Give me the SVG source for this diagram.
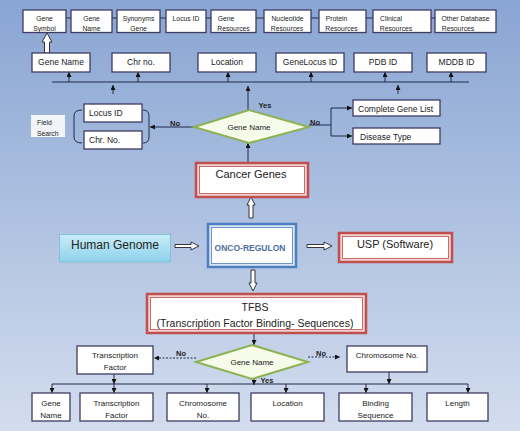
<svg xmlns="http://www.w3.org/2000/svg" width="520" height="431" viewBox="0 0 520 431">
<defs>
<linearGradient id="bg" x1="0" y1="0" x2="0" y2="1">
<stop offset="0" stop-color="#89a5d3"/>
<stop offset="1" stop-color="#d3ddee"/>
</linearGradient>
<linearGradient id="hg" x1="0" y1="0" x2="0" y2="1">
<stop offset="0" stop-color="#c9ecf8"/>
<stop offset="1" stop-color="#8dd2ec"/>
</linearGradient>
<marker id="ah" viewBox="0 0 10 10" refX="10" refY="5" markerWidth="5" markerHeight="5" markerUnits="userSpaceOnUse" orient="auto">
<path d="M0,0 L10,5 L0,10 Z" fill="#111"/>
</marker>
<style>
text{font-family:"Liberation Sans",Arial,sans-serif;fill:#222;text-anchor:middle}
.bx{fill:#fff;stroke:#3e3c62;stroke-width:1.3}
.t7{font-size:6.8px}
.t8{font-size:8px}
.t85{font-size:8.5px}
.lbl{font-size:7.5px;font-weight:bold}
.ln{fill:none;stroke:#1e2a48;stroke-width:1}
.arr{fill:none;stroke:#1e2a48;stroke-width:1;marker-end:url(#ah)}
.dash{fill:none;stroke:#1e2a48;stroke-width:1;stroke-dasharray:2,1.5;marker-end:url(#ah)}
.redo{fill:#f0d3d3;stroke:#c0504d;stroke-width:2.5}
.redi{fill:#fff;stroke:#c0504d;stroke-width:0.8}
.dia{fill:#f7fbea;stroke:#8db255;stroke-width:2}
.hol{fill:#fff;stroke:#222;stroke-width:0.9}
</style>
</defs>
<rect width="520" height="431" fill="url(#bg)"/>

<g id="connectors">
<!-- top row links -->
<path class="ln" d="M66,18 H71 M112,18 H117 M160,18 H166 M206,18 H211 M256,18 H264 M311,18 H319 M366,18 H373 M431,18 H435"/>
<!-- second row bus -->
<path class="ln" d="M52,82 H469"/>
<path class="arr" d="M69,82 V72"/>
<path class="arr" d="M138,82 V72"/>
<path class="arr" d="M228,82 V72"/>
<path class="arr" d="M311,82 V72"/>
<path class="arr" d="M385,82 V72"/>
<path class="arr" d="M451,82 V72"/>
<path class="arr" d="M113,94 V85"/>
<path class="arr" d="M398,94 V85"/>
<path class="arr" d="M248,110 V86"/>
<!-- diamond 1 branches -->
<path class="arr" d="M194,127 H150"/>
<path class="ln" d="M309,125 H331 M331,108 V136"/>
<path class="arr" d="M331,108 H352"/>
<path class="arr" d="M331,136 H352"/>
<path class="arr" d="M248,162 V143"/>
<!-- brackets -->
<path class="ln" stroke-width="1.2" d="M82,110 Q74,110 74,116 V137 Q74,143 82,143"/>
<path class="ln" stroke-width="1.2" d="M143,110 Q149,110 149,116 V137 Q149,143 143,143"/>
<!-- hollow arrows -->
<path class="hol" d="M44.5,53 V42 H42 L47,33 L52,42 H49.5 V53 Z"/>
<path class="hol" d="M249,218 V205 H247 L251,197 L255,205 H253 V218 Z"/>
<path class="hol" d="M175,244.5 H191 V242 L199,246 L191,250 V247.5 H175 Z"/>
<path class="hol" d="M307,244.5 H324 V242 L332,246 L324,250 V247.5 H307 Z"/>
<path class="hol" d="M251,270 V283 H249 L253,291 L257,283 H255 V270 Z"/>
<!-- TFBS area -->
<path class="arr" d="M254,333 V345"/>
<path class="dash" d="M196,358 H154"/>
<path class="dash" d="M308,357 H340"/>
<path class="arr" d="M254,379 V385"/>
<path class="ln" d="M52,384 H468"/>
<path class="arr" d="M114,374 V384"/>
<path class="arr" d="M389,372 V384"/>
<path class="arr" d="M52,384 V393"/>
<path class="arr" d="M114,384 V393"/>
<path class="arr" d="M207,384 V393"/>
<path class="arr" d="M286,384 V393"/>
<path class="arr" d="M366,384 V393"/>
<path class="arr" d="M468,384 V393"/>
</g>

<!-- top row -->
<g id="gene-symbol"><rect class="bx" x="23" y="10" width="43" height="22.5"/><text class="t7" x="44.5" y="20.5">Gene</text><text class="t7" x="44.5" y="30.5">Symbol</text></g>
<g id="gene-name-top"><rect class="bx" x="71" y="10" width="41" height="22.5"/><text class="t7" x="91.5" y="20.5">Gene</text><text class="t7" x="91.5" y="30.5">Name</text></g>
<g id="synonyms-gene"><rect class="bx" x="117" y="10" width="43" height="22.5"/><text class="t7" x="138.5" y="20.5">Synonyms</text><text class="t7" x="138.5" y="30.5">Gene</text></g>
<g id="locus-id-top"><rect class="bx" x="166" y="10" width="40" height="22.5"/><text class="t7" x="186" y="20.5">Locus ID</text></g>
<g id="gene-resources"><rect class="bx" x="211" y="10" width="45" height="22.5"/><text class="t7" x="226" y="20.5">Gene</text><text class="t7" x="233.5" y="30.5">Resources</text></g>
<g id="nucleotide-resources"><rect class="bx" x="264" y="10" width="47" height="22.5"/><text class="t7" x="287.5" y="20.5">Nucleotide</text><text class="t7" x="287" y="30.5">Resources</text></g>
<g id="protein-resources"><rect class="bx" x="319" y="10" width="47" height="22.5"/><text class="t7" x="336.5" y="20.5">Protein</text><text class="t7" x="341.5" y="30.5">Resources</text></g>
<g id="clinical-resources"><rect class="bx" x="373" y="10" width="58" height="22.5"/><text class="t7" x="391" y="20.5">Clinical</text><text class="t7" x="396" y="30.5">Resources</text></g>
<g id="other-db-resources"><rect class="bx" x="435" y="10" width="61" height="22.5"/><text class="t7" x="465.5" y="20.5">Other Database</text><text class="t7" x="458" y="30.5">Resources</text></g>

<!-- second row -->
<g id="gene-name-2"><rect class="bx" x="32" y="53" width="58" height="19"/><text class="t85" x="61" y="65">Gene Name</text></g>
<g id="chr-no"><rect class="bx" x="112" y="53" width="58" height="19"/><text class="t85" x="141" y="65">Chr no.</text></g>
<g id="location-2"><rect class="bx" x="198" y="53" width="58" height="19"/><text class="t85" x="227" y="65">Location</text></g>
<g id="genelocus-id"><rect class="bx" x="276" y="53" width="68" height="19"/><text class="t85" x="310" y="65">GeneLocus ID</text></g>
<g id="pdb-id"><rect class="bx" x="354" y="53" width="58" height="19"/><text class="t85" x="383" y="65">PDB ID</text></g>
<g id="mddb-id"><rect class="bx" x="427" y="53" width="59" height="19"/><text class="t85" x="456.5" y="65">MDDB ID</text></g>

<!-- diamond 1 -->
<g id="gene-name-decision-1"><path class="dia" d="M194,127 L249,110 L309,127 L249,143 Z"/><text class="t8" x="249" y="130">Gene Name</text></g>
<g id="labels-1"><text class="lbl" x="265" y="108">Yes</text><text class="lbl" x="175" y="126">No</text><text class="lbl" x="315" y="124.5">No</text></g>

<g id="field-search"><rect x="31" y="115" width="34" height="22" fill="#f2f4fa"/><text class="t7" x="37" y="124.5" style="text-anchor:start">Field</text><text class="t7" x="37" y="135.5" style="text-anchor:start">Search</text></g>
<g id="locus-id"><rect class="bx" x="84" y="104" width="58" height="18"/><text class="t85" x="89" y="116" style="text-anchor:start">Locus ID</text></g>
<g id="chr-no-2"><rect class="bx" x="84" y="131" width="58" height="18"/><text class="t85" x="89" y="143" style="text-anchor:start">Chr. No.</text></g>
<g id="complete-gene-list"><rect class="bx" x="353" y="100" width="87" height="16"/><text class="t85" x="358" y="111.5" style="text-anchor:start">Complete Gene List</text></g>
<g id="disease-type"><rect class="bx" x="353" y="128" width="87" height="16"/><text class="t85" x="360" y="139.5" style="text-anchor:start">Disease Type</text></g>

<!-- center -->
<g id="cancer-genes"><rect class="redo" x="196" y="163" width="112" height="34"/><rect class="redi" x="199.5" y="166.5" width="105" height="27"/><text x="251" y="178" style="font-size:11px">Cancer Genes</text></g>
<g id="human-genome"><rect x="59.5" y="234.5" width="111" height="27.5" fill="url(#hg)" stroke="#86c0d8" stroke-width="1"/><text x="115" y="249" style="font-size:12px">Human Genome</text></g>
<g id="onco-regulon"><rect x="208" y="224" width="88" height="43" fill="#dbe6f4" stroke="#4f7fbf" stroke-width="2.5"/><rect x="211.5" y="227.5" width="81" height="36" fill="#fff" stroke="#4f7fbf" stroke-width="0.8"/><text x="250" y="251" style="font-size:8.5px;font-weight:bold;fill:#4d6f9f">ONCO-REGULON</text></g>
<g id="usp-software"><rect class="redo" x="339" y="233" width="113" height="29"/><rect class="redi" x="342.5" y="236.5" width="106" height="22"/><text x="395" y="248" style="font-size:11px">USP (Software)</text></g>
<g id="tfbs"><rect class="redo" x="147" y="294" width="219" height="39"/><rect class="redi" x="150.5" y="297.5" width="212" height="32"/><text x="255" y="311" style="font-size:10.5px">TFBS</text><text x="255" y="327" style="font-size:10.5px">(Transcription Factor Binding- Sequences)</text></g>

<!-- diamond 2 -->
<g id="gene-name-decision-2"><path class="dia" d="M196,362 L252,345 L308,362 L252,379 Z"/><text class="t8" x="252" y="365">Gene Name</text></g>
<g id="labels-2"><text class="lbl" x="181" y="356">No</text><text class="lbl" x="321" y="356">No</text><text class="lbl" x="267" y="383">Yes</text></g>
<g id="transcription-factor"><rect class="bx" x="77" y="346" width="76" height="28"/><text class="t8" x="115" y="358">Transcription</text><text class="t8" x="115" y="370">Factor</text></g>
<g id="chromosome-no"><rect class="bx" x="347" y="346" width="80" height="26"/><text class="t8" x="387" y="358">Chromosome No.</text></g>

<!-- bottom row -->
<g id="b-gene-name"><rect class="bx" x="32" y="393" width="38" height="28"/><text class="t8" x="51" y="406">Gene</text><text class="t8" x="51" y="418">Name</text></g>
<g id="b-transcription-factor"><rect class="bx" x="80" y="393" width="73" height="28"/><text class="t8" x="116.5" y="406">Transcription</text><text class="t8" x="116.5" y="418">Factor</text></g>
<g id="b-chromosome-no"><rect class="bx" x="167" y="393" width="72" height="28"/><text class="t8" x="203" y="406">Chromosome</text><text class="t8" x="203" y="418">No.</text></g>
<g id="b-location"><rect class="bx" x="251" y="393" width="73" height="28"/><text class="t8" x="287.5" y="406">Location</text></g>
<g id="b-binding-sequence"><rect class="bx" x="339" y="393" width="73" height="28"/><text class="t8" x="375.5" y="406">Binding</text><text class="t8" x="375.5" y="418">Sequence</text></g>
<g id="b-length"><rect class="bx" x="427" y="393" width="61" height="28"/><text class="t8" x="457.5" y="406">Length</text></g>
</svg>
